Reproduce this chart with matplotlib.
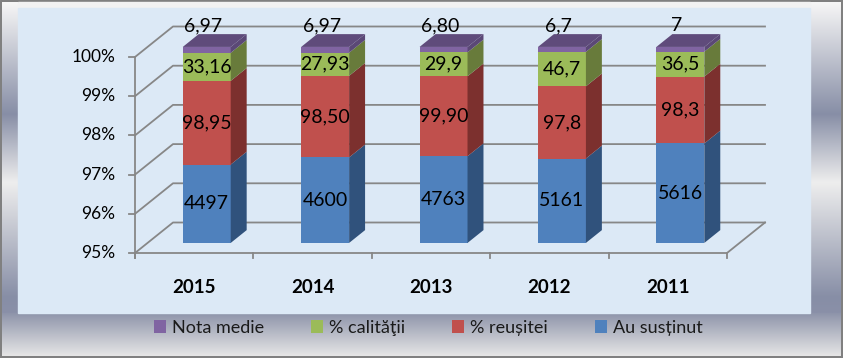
import matplotlib
matplotlib.use('Agg')
import matplotlib.pyplot as plt
import matplotlib.colors as mcolors
from matplotlib.patches import Polygon, Rectangle, Patch
import numpy as np

# ---------------- data ----------------
years = ['2015', '2014', '2013', '2012', '2011']
au_sustinut = [4497, 4600, 4763, 5161, 5616]
reusita = [98.95, 98.50, 99.90, 97.8, 98.3]
calitate = [33.16, 27.93, 29.9, 46.7, 36.5]
nota_medie = [6.97, 6.97, 6.80, 6.7, 7]
lab_au = ['4497', '4600', '4763', '5161', '5616']
lab_reu = ['98,95', '98,50', '99,90', '97,8', '98,3']
lab_cal = ['33,16', '27,93', '29,9', '46,7', '36,5']
lab_nota = ['6,97', '6,97', '6,80', '6,7', '7']
series_names = ['Au susținut', '% reușitei', '% calităţii', 'Nota medie']
yticks = [95, 96, 97, 98, 99, 100]
ytick_labels = ['95%', '96%', '97%', '98%', '99%', '100%']

front_cols = ['#4F81BD', '#C0504D', '#9BBB59', '#8064A2']
side_cols = ['#30527C', '#7C302E', '#687B3B', '#5B4876']
top_col = '#5F4B7B'

FONT = ['Lato', 'DejaVu Sans']
plt.rcParams['font.family'] = FONT

W, H = 843, 358
fig = plt.figure(figsize=(W / 100, H / 100), dpi=100)

# ---------------- frame / background ----------------
bg = fig.add_axes([0, 0, 1, 1])
bg.axis('off')
bg.add_patch(Rectangle((0, 0), W, H, color='#808080'))


def vgrad(x0, x1, y0, y1, stops):
    ys = np.linspace(0, 1, 256)
    pos = [s[0] for s in stops]
    cols = np.array([mcolors.to_rgb(s[1]) for s in stops])
    img = np.stack([np.interp(ys, pos, cols[:, k]) for k in range(3)], axis=-1)[:, None, :]
    bg.imshow(img, extent=(x0, x1, y1, y0), aspect='auto', interpolation='bilinear', zorder=1)


side_stops = [(0.0, '#F6F6F6'), (0.36, '#878EA6'), (0.58, '#EEEEEE'), (0.95, '#878EA6'), (1.0, '#8A90A8')]
vgrad(2, 18, 2, 313, side_stops)
vgrad(810, 841, 2, 313, side_stops)
vgrad(2, 841, 313, 356, [(0.0, '#8E94AA'), (1.0, '#E6E6E6')])
bg.add_patch(Rectangle((18, 2), 792, 6, color='#F2F2F2', zorder=2))
bg.add_patch(Rectangle((18, 8), 792, 305, color='#DCE9F6', zorder=2))
bg.set_xlim(0, W)
bg.set_ylim(H, 0)

# ---------------- main 3D-like chart ----------------
ax = fig.add_axes([135 / W, 105 / H, 592 / W, 196 / H])
ax.set_xlim(0, 5)
ax.set_ylim(95, 100)
ax.axis('off')
ax.patch.set_alpha(0)

DX = 38 / 118.4   # depth offset in category units
DY = 30.5 / 39.2  # depth offset in percent units
f0, f1 = 0.33, 0.75
bw = 0.405
gc = '#878787'
glw = 1.3
n = len(years)

# walls
for v in yticks:
    ax.plot([0, DX, n + DX], [v, v + DY, v + DY], color=gc, lw=glw, clip_on=False, zorder=1)
    ax.plot([-0.05, 0], [v, v], color=gc, lw=glw, clip_on=False, zorder=1)
    ax.text(-0.165, v, ytick_labels[yticks.index(v)], ha='right', va='center', fontsize=12.5,
            color='black', clip_on=False)
ax.plot([0, 0], [95 - 0.12, 100], color=gc, lw=glw, clip_on=False, zorder=1)
ax.plot([0, n, n + DX], [95, 95, 95 + DY], color=gc, lw=glw, clip_on=False, zorder=1)
for k in range(n + 1):
    ax.plot([k, k], [95, 95 - 0.12], color=gc, lw=glw, clip_on=False, zorder=1)

# bars
data = np.array([au_sustinut, reusita, calitate, nota_medie], dtype=float)
totals = data.sum(axis=0)
share = data / totals * 100
cum = np.cumsum(share, axis=0)
labels = [lab_au, lab_reu, lab_cal]
for i in range(n):
    xl = i + 0.5 + f0 * DX - bw / 2
    xr = xl + bw
    bd = f1 - f0
    bottoms = [95, cum[0, i], cum[1, i], cum[2, i]]
    tops = [cum[0, i], cum[1, i], cum[2, i], 100]
    for s in range(4):
        a, b = bottoms[s], tops[s]
        ax.bar(xl + bw / 2, b - a, bottom=a + f0 * DY, width=bw, color=front_cols[s],
               clip_on=False, zorder=3, linewidth=0)
        side = Polygon([(xr, a + f0 * DY), (xr + bd * DX, a + f1 * DY),
                        (xr + bd * DX, b + f1 * DY), (xr, b + f0 * DY)],
                       closed=True, facecolor=side_cols[s], edgecolor='none', clip_on=False, zorder=3)
        ax.add_patch(side)
        if s < 3:
            ax.text(xl + bw / 2, (a + b) / 2 + f0 * DY, labels[s][i], ha='center', va='center',
                    fontsize=14, color='black', zorder=5, clip_on=False)
    top = Polygon([(xl, 100 + f0 * DY), (xl + bd * DX, 100 + f1 * DY),
                   (xr + bd * DX, 100 + f1 * DY), (xr, 100 + f0 * DY)],
                  closed=True, facecolor=top_col, edgecolor='none', clip_on=False, zorder=3)
    ax.add_patch(top)
    ax.text(xl + bw / 2 - 0.03, 100 + f0 * DY + 0.55, lab_nota[i], ha='center', va='center',
            fontsize=14, color='black', zorder=5, clip_on=False)
    ax.text(i + 0.5, 95 - 0.87, years[i], ha='center', va='center', fontsize=13.5,
            fontweight='bold', color='black', clip_on=False)

# legend
handles = [Patch(facecolor=front_cols[s], edgecolor='none') for s in [3, 2, 1, 0]]
names = [series_names[s] for s in [3, 2, 1, 0]]
fig.legend(handles, names, loc='center', bbox_to_anchor=(428 / W, 1 - 328 / H), ncol=4,
           frameon=False, fontsize=13, handlelength=0.7, handleheight=0.7,
           handletextpad=0.3, columnspacing=2.6, labelcolor='#1A1A1A')

fig.savefig('out.png', dpi=100)
